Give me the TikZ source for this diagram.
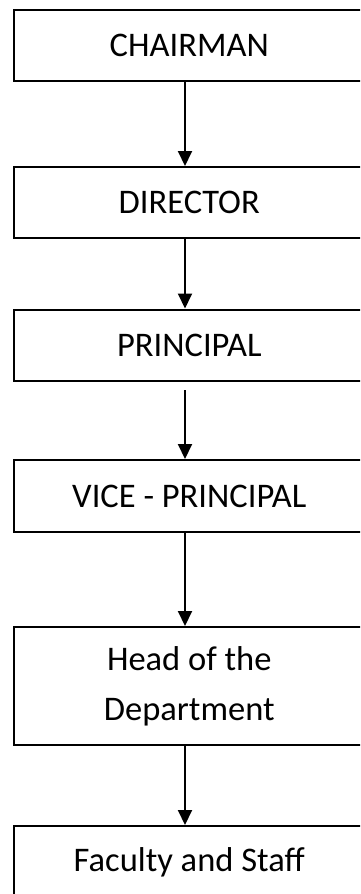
\documentclass[tikz,border=0pt]{standalone}
\usepackage{fontspec}
\setmainfont{Carlito}
\usetikzlibrary{arrows.meta}
\begin{document}
\begin{tikzpicture}[x=1pt,y=-1pt,
  box/.style={draw, line width=2pt, rectangle, minimum width=351.5pt, inner sep=0pt,
    align=center, font=\fontsize{34.5}{50}\selectfont},
  arr/.style={draw, line width=2pt, -{Triangle[width=14pt,length=15pt]}}]
\useasboundingbox (0,0) rectangle (360,894);
\clip (0,0) rectangle (360,894);
\node[box, minimum height=71.5pt] (b1) at (189.25,45.25) {CHAIRMAN};
\node[box, minimum height=71pt] (b2) at (189.25,202.5) {DIRECTOR};
\node[box, minimum height=71.5pt] (b3) at (189.25,345.25) {PRINCIPAL};
\node[box, minimum height=72pt] (b4) at (189.25,496) {VICE - PRINCIPAL};
\node[box, minimum height=118pt] (b5) at (189.25,686) {Head of the\\Department};
\node[box, minimum height=72pt] (b6) at (189.25,862) {Faculty and Staff};
\coordinate (ax) at (185,0);
\draw[arr] (ax |- b1.south) -- (ax |- b2.north);
\draw[arr] (ax |- b2.south) -- (ax |- b3.north);
\draw[arr] ([yshift=-8pt]ax |- b3.south) -- (ax |- b4.north);
\draw[arr] (ax |- b4.south) -- (ax |- b5.north);
\draw[arr] (ax |- b5.south) -- (ax |- b6.north);
\end{tikzpicture}
\end{document}
